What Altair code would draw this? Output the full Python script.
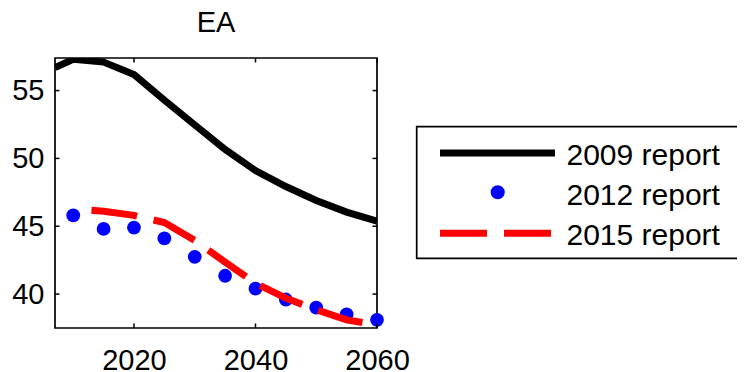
import altair as alt
import pandas as pd

# ---- data ----
years_2009 = [2007, 2010, 2015, 2020, 2025, 2030, 2035, 2040, 2045, 2050, 2055, 2060]
vals_2009 = [56.7, 57.3, 57.1, 56.18, 54.3, 52.47, 50.66, 49.1, 47.93, 46.9, 46.04, 45.38]

years_2012 = [2010, 2015, 2020, 2025, 2030, 2035, 2040, 2045, 2050, 2055, 2060]
vals_2012 = [45.8, 44.8, 44.9, 44.1, 42.75, 41.35, 40.4, 39.6, 39.0, 38.5, 38.1]

years_2015 = [2013, 2015, 2020, 2025, 2030, 2035, 2040, 2045, 2050, 2055, 2060]
vals_2015 = [46.18, 46.1, 45.8, 45.27, 43.95, 42.36, 40.8, 39.7, 38.85, 38.1, 37.72]

legend_labels = ["2009 report", "2012 report", "2015 report"]
x_ticks = [2020, 2040, 2060]
y_ticks = [40, 45, 50, 55]
x_domain = [2007, 2060]
y_domain = [37.5, 57.4]
title_text = "EA"

FONT = "Liberation Sans"
FS = 29
W, H = 322, 270

df09 = pd.DataFrame({"year": years_2009, "value": vals_2009})
df12 = pd.DataFrame({"year": years_2012, "value": vals_2012})
df15 = pd.DataFrame({"year": years_2015, "value": vals_2015})

x_axis = alt.Axis(values=x_ticks, ticks=False, domain=False, grid=False, labelFont=FONT,
                  labelFontSize=FS, labelColor="black", labelPadding=18, title=None,
                  format="d", labelFlush=False)
y_axis = alt.Axis(values=y_ticks, ticks=False, domain=False, grid=False, labelFont=FONT,
                  labelFontSize=FS, labelColor="black", labelPadding=11, title=None)
x_scale = alt.Scale(domain=x_domain, nice=False, zero=False)
y_scale = alt.Scale(domain=y_domain, nice=False, zero=False)


def xq(field):
    return alt.X(f"{field}:Q", scale=x_scale, axis=x_axis)


def yq(field):
    return alt.Y(f"{field}:Q", scale=y_scale, axis=y_axis)


line09 = alt.Chart(df09).mark_line(color="black", strokeWidth=7, clip=True).encode(
    x=xq("year"), y=yq("value"))
dots12 = alt.Chart(df12).mark_circle(color="#0000ff", size=190, opacity=1).encode(
    x=xq("year"), y=yq("value"))
line15 = alt.Chart(df15).mark_line(color="#ff0000", strokeWidth=7, strokeDash=[46, 17],
                                   clip=True).encode(x=xq("year"), y=yq("value"))

# inward ticks (box style)
xt = pd.DataFrame({"year": x_ticks})
yt = pd.DataFrame({"value": y_ticks})
TL = 4.5
ticks = [
    alt.Chart(xt).mark_rule(color="black", strokeWidth=1.5).encode(
        x=xq("year"), y=alt.value(H), y2=alt.value(H - TL)),
    alt.Chart(xt).mark_rule(color="black", strokeWidth=1.5).encode(
        x=xq("year"), y=alt.value(0), y2=alt.value(TL)),
    alt.Chart(yt).mark_rule(color="black", strokeWidth=1.5).encode(
        y=yq("value"), x=alt.value(0), x2=alt.value(TL)),
    alt.Chart(yt).mark_rule(color="black", strokeWidth=1.5).encode(
        y=yq("value"), x=alt.value(W - TL), x2=alt.value(W)),
]

one = alt.Data(values=[{"k": 0}])

# title as a text mark centred over the plot
title_layer = alt.Chart(one).mark_text(text=title_text, font=FONT, fontSize=FS, align="center",
                                       baseline="alphabetic", color="black").encode(
    x=alt.value(W / 2), y=alt.value(-26.3))

# legend (drawn manually to reproduce the MATLAB-style box)
LX0, LY0, LY1 = 361.7, 68.7, 200.3
legend_layers = [
    alt.Chart(one).mark_rect(fill="white", fillOpacity=0, stroke="black", strokeWidth=1.7).encode(
        x=alt.value(LX0), x2=alt.value(720), y=alt.value(LY0), y2=alt.value(LY1)),
    alt.Chart(one).mark_rule(color="black", strokeWidth=7).encode(
        x=alt.value(385), x2=alt.value(500), y=alt.value(95)),
    alt.Chart(one).mark_circle(color="#0000ff", size=200, opacity=1).encode(
        x=alt.value(442.7), y=alt.value(134.3)),
    alt.Chart(one).mark_rule(color="#ff0000", strokeWidth=7, strokeDash=[47, 17]).encode(
        x=alt.value(385), x2=alt.value(497), y=alt.value(175.3)),
]
for i, lab in enumerate(legend_labels):
    legend_layers.append(
        alt.Chart(one).mark_text(text=lab, font=FONT, fontSize=30, align="left",
                                 baseline="alphabetic", color="black").encode(
            x=alt.value(511.5), y=alt.value(107 + 40 * i)))

chart = alt.layer(line09, dots12, line15, *ticks, title_layer, *legend_layers).properties(
    width=W, height=H,
    autosize=alt.AutoSizeParams(type="none"),
    padding={"left": 47, "top": 50, "right": 360, "bottom": 46},
).configure_view(stroke="black", strokeWidth=1.7)

chart.save("out.html", embed_options={"renderer": "svg", "actions": False})
